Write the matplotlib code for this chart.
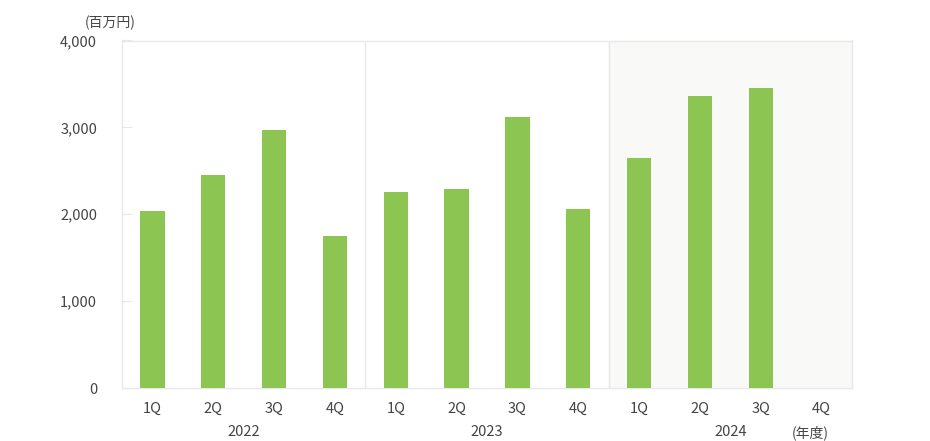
import matplotlib
matplotlib.use("Agg")
import matplotlib.pyplot as plt

plt.rcParams['font.family'] = ['Noto Sans CJK JP', 'DejaVu Sans']

years = ["2022", "2023", "2024"]
quarters = ["1Q", "2Q", "3Q", "4Q"]
values_2022 = [2040, 2455, 2970, 1755]
values_2023 = [2260, 2290, 3120, 2065]
values_2024 = [2650, 3365, 3455]

all_values = values_2022 + values_2023 + values_2024
n_slots = len(years) * len(quarters)

fig = plt.figure(figsize=(9.3, 4.41), dpi=100)
ax = fig.add_axes([122/930, 1-388/441, 730/930, 347.5/441])

bar_color = "#8dc553"
line_color = "#e8e8e8"
text_color = "#444444"

x = list(range(len(all_values)))
ax.bar(x, all_values, width=0.4, color=bar_color, edgecolor="none", zorder=3)

ax.set_xlim(-0.5, n_slots - 0.5)
ax.set_ylim(0, 4000)

# 2024 background
ax.axvspan(7.5, 11.5, color="#f9f9f7", zorder=0)
for xv in [3.5, 7.5]:
    ax.axvline(xv, color=line_color, lw=1, zorder=1)

for s in ax.spines.values():
    s.set_color(line_color)
    s.set_linewidth(1)

ax.set_yticks([0, 1000, 2000, 3000, 4000])
ax.set_yticklabels([f"{v:,}" for v in [0, 1000, 2000, 3000, 4000]])
ax.tick_params(axis='y', direction='in', length=7, color=line_color, labelsize=10.5,
               labelcolor=text_color, pad=18)
ax.set_xticks(range(n_slots))
ax.set_xticklabels(quarters * len(years))
ax.tick_params(axis='x', length=0, labelsize=10.5, labelcolor=text_color, pad=10)

for i, y in enumerate(years):
    xc = i * 4 + 1.5
    ax.text(xc, -0.128, y, transform=ax.get_xaxis_transform(), ha='center', va='center',
            fontsize=10.5, color=text_color)
ax.text(10.82, -0.128, "(年度)", transform=ax.get_xaxis_transform(), ha='center', va='center',
        fontsize=10, color=text_color)
fig.text(110/930, 1-23/441, "(百万円)", ha='center', va='center', fontsize=10, color=text_color)

fig.savefig("out.png", dpi=100)
